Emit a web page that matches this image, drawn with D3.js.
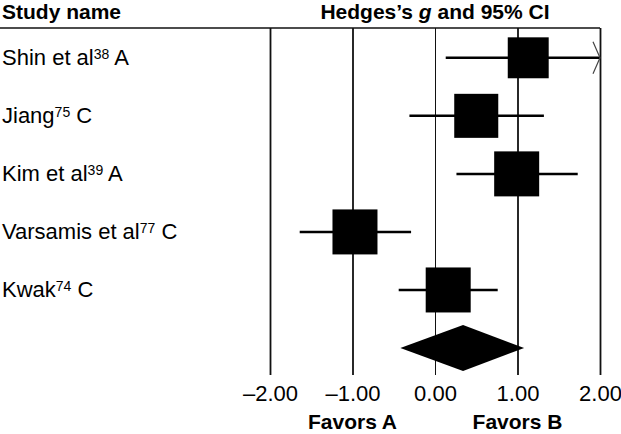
<!DOCTYPE html>
<html>
<head>
<meta charset="utf-8">
<script src="https://cdn.jsdelivr.net/npm/d3@7"></script>
<style>
  body { margin: 0; background: #fff; }
  svg { display: block; font-family: "Liberation Sans", Arial, sans-serif; }
</style>
</head>
<body>
<svg></svg>
<script>
// study rows
let studies = ["Shin et al", "Jiang", "Kim et al", "Varsamis et al", "Kwak"],
refs = ["38", "75", "39", "77", "74"],
groups = ["A", "C", "A", "C", "C"],
hedgesG = [1.13, 0.50, 0.99, -0.97, 0.16],
lower = [0.13, -0.31, 0.26, -1.64, -0.44],
upper = [2.40, 1.32, 1.73, -0.29, 0.76],
weights = [17.3, 20.0, 20.9, 20.9, 20.9];

// pooled estimate
let pooled = [-0.42, 0.34, 1.08];

let ticks = [-2, -1, 0, 1, 2],
favors = [{x: -1, label: "Favors A"}, {x: 1, label: "Favors B"}];

let width = 621,
height = 434,
lineTop = 28,
lineBottom = 375;

let svg = d3.select("svg")
  .attr("width", width)
  .attr("height", height);

let xScale = d3.scaleLinear().domain([-2, 2]).range([270, 600]);
let yScale = d3.scalePoint().domain(d3.range(studies.length + 1)).range([57.8, 348]);
let sizeScale = d3.scaleSqrt().domain([0, d3.max(weights)]).range([0, 45]);

// header line
svg.append("line")
  .attr("x1", 0).attr("x2", xScale(2))
  .attr("y1", lineTop).attr("y2", lineTop)
  .attr("stroke", "#111").attr("stroke-width", 1.6);

// axis, ticks run all the way up
let xAxis = d3.axisBottom(xScale)
  .tickValues(ticks)
  .tickSize(-(lineBottom - lineTop))
  .tickPadding(10)
  .tickFormat(d => (d < 0 ? "\u2013" : "") + Math.abs(d).toFixed(2));

let gx = svg.append("g")
  .attr("transform", `translate(0, ${lineBottom})`)
  .call(xAxis);
gx.select(".domain").remove();
gx.selectAll(".tick line")
  .attr("stroke", "#111")
  .attr("stroke-width", d => d === 0 ? 1 : 1.8);
gx.selectAll(".tick text")
  .attr("fill", "#000")
  .style("font-size", "22px")
  .style("font-family", "\"Liberation Sans\", Arial, sans-serif");

// headers
svg.append("text")
  .attr("x", 2).attr("y", 19)
  .style("font-size", "21px").style("font-weight", "bold")
  .text("Study name");

let head = svg.append("text")
  .attr("x", xScale(0)).attr("y", 19)
  .attr("text-anchor", "middle")
  .style("font-size", "21px").style("font-weight", "bold");
head.append("tspan").text("Hedges\u2019s ");
head.append("tspan").style("font-style", "italic").text("g");
head.append("tspan").text(" and 95% CI");

// study labels
let rows = studies.map((s, i) => ({
  name: s, ref: refs[i], group: groups[i],
  g: hedgesG[i], lo: lower[i], hi: upper[i], w: weights[i], i: i
}));

let labels = svg.append("g").selectAll("text")
  .data(rows)
  .enter()
  .append("text")
  .attr("x", 2)
  .attr("y", d => yScale(d.i) + 7)
  .style("font-size", "22px");
labels.append("tspan").text(d => d.name);
labels.append("tspan")
  .attr("dy", -6)
  .style("font-size", "14px")
  .text(d => d.ref);
labels.append("tspan")
  .attr("dy", 6)
  .text(d => " " + d.group);

// CI lines
svg.append("g").selectAll("line")
  .data(rows)
  .enter()
  .append("line")
  .attr("x1", d => xScale(Math.max(d.lo, -2)))
  .attr("x2", d => xScale(Math.min(d.hi, 2)))
  .attr("y1", d => yScale(d.i))
  .attr("y2", d => yScale(d.i))
  .attr("stroke", "#000")
  .attr("stroke-width", 2.5);

// arrow for CIs past the axis
svg.append("g").selectAll("path")
  .data(rows.filter(d => d.hi > 2))
  .enter()
  .append("path")
  .attr("d", d => {
    let x = xScale(2), y = yScale(d.i);
    return `M${x - 7},${y - 16}L${x},${y}L${x - 7},${y + 16}`;
  })
  .attr("fill", "none")
  .attr("stroke", "#444")
  .attr("stroke-width", 1.2);

// squares
svg.append("g").selectAll("rect")
  .data(rows)
  .enter()
  .append("rect")
  .attr("x", d => xScale(d.g) - sizeScale(d.w) / 2)
  .attr("y", d => yScale(d.i) - sizeScale(d.w) / 2)
  .attr("width", d => sizeScale(d.w))
  .attr("height", d => sizeScale(d.w))
  .attr("fill", "#000");

// pooled diamond
let dy = yScale(studies.length);
svg.append("path")
  .attr("d", `M${xScale(pooled[0])},${dy}L${xScale(pooled[1])},${dy - 23}L${xScale(pooled[2])},${dy}L${xScale(pooled[1])},${dy + 23}Z`)
  .attr("fill", "#000");

// favors labels
svg.append("g").selectAll("text")
  .data(favors)
  .enter()
  .append("text")
  .attr("x", d => xScale(d.x))
  .attr("y", 429)
  .attr("text-anchor", "middle")
  .style("font-size", "21px").style("font-weight", "bold")
  .text(d => d.label);
</script>
</body>
</html>
